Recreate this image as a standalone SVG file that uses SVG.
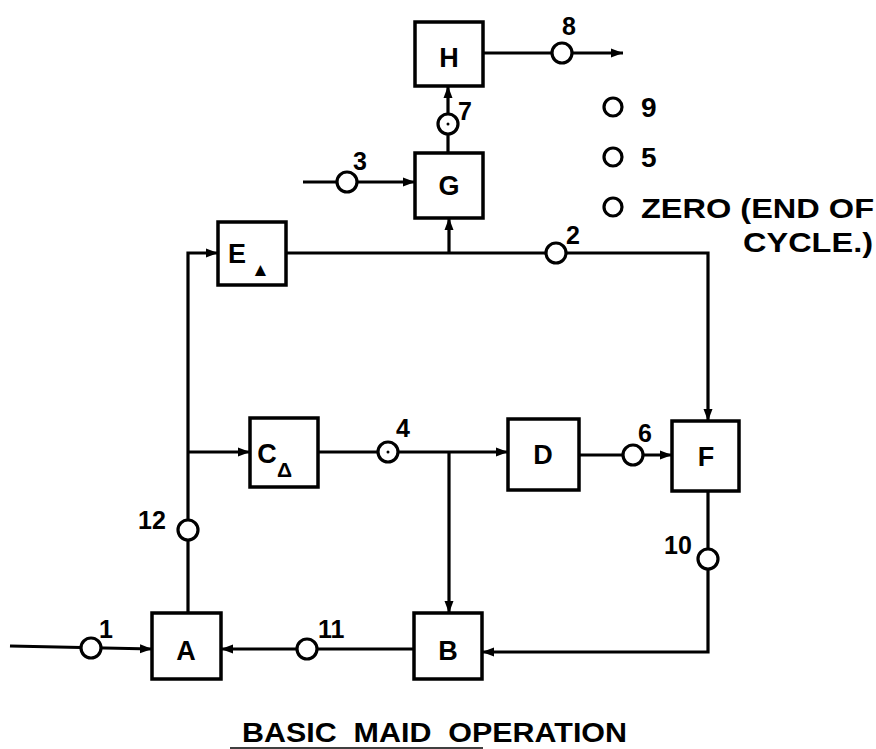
<svg xmlns="http://www.w3.org/2000/svg" width="876" height="749" viewBox="0 0 876 749">
<style>
.box{fill:#fff;stroke:#000;stroke-width:3.5}
.ln{fill:none;stroke:#000;stroke-width:3.2}
.pt{fill:#fff;stroke:#000;stroke-width:3.2}
.t{font-family:"Liberation Sans","DejaVu Sans",sans-serif;font-weight:bold;fill:#000}
.bl{font-size:27px;text-anchor:middle}
.lb{font-size:25px}
</style>
<defs>
<marker id="ar" markerUnits="userSpaceOnUse" markerWidth="14" markerHeight="12" refX="12" refY="6" orient="auto">
<path d="M0,1.5 L12,6 L0,10.5 Z" fill="#000"/>
</marker>
</defs>
<rect width="876" height="749" fill="#fff"/>
<g id="connectors">
<path class="ln" d="M10,646 L152,649" marker-end="url(#ar)"/>
<path class="ln" d="M414,649 L221,649" marker-end="url(#ar)"/>
<path class="ln" d="M708,491 L708,652 L482,652" marker-end="url(#ar)"/>
<path class="ln" d="M188,613 L188,253 L218,253" marker-end="url(#ar)"/>
<path class="ln" d="M188,452 L250,452" marker-end="url(#ar)"/>
<path class="ln" d="M318,452 L508,452" marker-end="url(#ar)"/>
<path class="ln" d="M449,452 L449,613" marker-end="url(#ar)"/>
<path class="ln" d="M579,455 L672,455" marker-end="url(#ar)"/>
<path class="ln" d="M286,253 L708,253 L708,421" marker-end="url(#ar)"/>
<path class="ln" d="M449,253 L449,218" marker-end="url(#ar)"/>
<path class="ln" d="M303,182 L415,182" marker-end="url(#ar)"/>
<path class="ln" d="M448,153 L448,86" marker-end="url(#ar)"/>
<path class="ln" d="M483,53 L623,53" marker-end="url(#ar)"/>
</g>
<g id="points">
<circle class="pt" cx="91" cy="648" r="10"/>
<circle class="pt" cx="307" cy="649" r="10"/>
<circle class="pt" cx="708" cy="559" r="10"/>
<circle class="pt" cx="188" cy="530" r="10"/>
<circle class="pt" cx="388" cy="452" r="10"/><circle cx="388" cy="452" r="1.5"/>
<circle class="pt" cx="633" cy="455" r="10"/>
<circle class="pt" cx="556" cy="253" r="10"/>
<circle class="pt" cx="347" cy="182" r="10"/>
<circle class="pt" cx="448" cy="124" r="10"/><circle cx="448" cy="124" r="1.5"/>
<circle class="pt" cx="562" cy="53" r="10"/>
</g>
<g id="labels">
<text class="t lb" x="99" y="638">1</text>
<text class="t lb" x="318" y="638">11</text>
<text class="t lb" x="664" y="554">10</text>
<text class="t lb" x="138" y="529">12</text>
<text class="t lb" x="396" y="437">4</text>
<text class="t lb" x="638" y="442">6</text>
<text class="t lb" x="566" y="244">2</text>
<text class="t lb" x="353" y="170">3</text>
<text class="t lb" x="458" y="120">7</text>
<text class="t lb" x="562" y="35">8</text>
</g>
<g id="A"><rect class="box" x="152" y="613" width="69" height="66"/><text class="t bl" x="186" y="660">A</text></g>
<g id="B"><rect class="box" x="414" y="613" width="68" height="66"/><text class="t bl" x="448" y="660">B</text></g>
<g id="Cdelta"><rect class="box" x="250" y="418" width="68" height="69"/><text class="t bl" x="267" y="463">C</text><text class="t" x="277" y="477" font-size="21">Δ</text></g>
<g id="D"><rect class="box" x="508" y="419" width="71" height="71"/><text class="t bl" x="543" y="464">D</text></g>
<g id="Edelta"><rect class="box" x="218" y="222" width="68" height="63"/><text class="t bl" x="237" y="263">E</text><text class="t" x="251" y="276" font-size="19">▲</text></g>
<g id="F"><rect class="box" x="672" y="421" width="67" height="70"/><text class="t bl" x="706" y="466">F</text></g>
<g id="G"><rect class="box" x="415" y="153" width="68" height="65"/><text class="t bl" x="449" y="195">G</text></g>
<g id="H"><rect class="box" x="415" y="22" width="68" height="64"/><text class="t bl" x="449" y="67">H</text></g>
<g id="legend">
<circle class="pt" cx="613" cy="107" r="9"/>
<circle class="pt" cx="613" cy="157" r="9"/>
<circle class="pt" cx="613" cy="207" r="9"/>
<text class="t" x="641" y="117" font-size="28">9</text>
<text class="t" x="641" y="167" font-size="28">5</text>
<text class="t" x="641" y="218" font-size="28" textLength="233" lengthAdjust="spacingAndGlyphs">ZERO (END OF</text>
<text class="t" x="743" y="252" font-size="28" textLength="130" lengthAdjust="spacingAndGlyphs">CYCLE.)</text>
</g>
<g id="title">
<text class="t" x="242" y="742" font-size="27" textLength="385" lengthAdjust="spacingAndGlyphs" xml:space="preserve" style="white-space:pre">BASIC  MAID  OPERATION</text>
<line x1="230" y1="748" x2="483" y2="748" stroke="#000" stroke-width="1.5"/>
</g>
</svg>
